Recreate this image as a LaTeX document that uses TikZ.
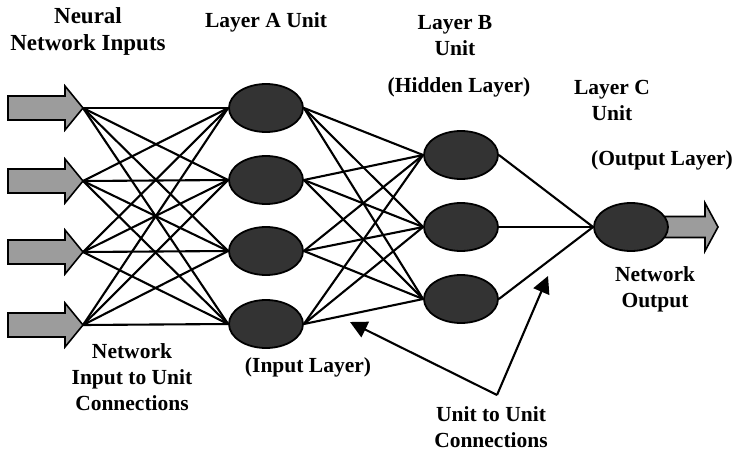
\documentclass[tikz,border=0pt]{standalone}
\usepackage{fontspec}
\setmainfont{Liberation Serif}
\usetikzlibrary{arrows.meta,shapes.geometric}
\definecolor{unitfill}{HTML}{333333}
\definecolor{arrowfill}{HTML}{9C9C9C}
\begin{document}
\begin{tikzpicture}[x=1pt,y=-1pt,
  unit/.style={ellipse,draw=black,line width=1.8pt,fill=unitfill,minimum width=74pt,minimum height=48pt,inner sep=0pt},
  conn/.style={line width=2.1pt,black},
  bigarrow/.style={draw=black,line width=1.6pt,fill=arrowfill,line join=miter},
  lbl/.style={font=\bfseries\fontsize{21.5}{26}\selectfont,align=center,inner sep=0pt},
  pointer/.style={line width=2.1pt,-{Triangle[length=17pt,width=17pt]}}]
\useasboundingbox (0,0) rectangle (733,453);
% input arrows
\foreach \i/\y in {1/108,2/181,3/252,4/325}{
  \draw[bigarrow] (8,\y-12) -- (65,\y-12) -- (65,\y-22) -- (83,\y) -- (65,\y+22) -- (65,\y+12) -- (8,\y+12) -- cycle;
  \coordinate (in\i) at (83,\y);
}
% output arrow
\draw[bigarrow] (650,216.5) -- (705,216.5) -- (705,203) -- (718,227) -- (705,251) -- (705,237.5) -- (650,237.5) -- cycle;
% units
\foreach \i/\y in {1/108,2/180,3/251,4/324}{
  \node[unit] (A\i) at (266,\y) {};
}
\foreach \i/\y in {1/155,2/227,3/299}{
  \node[unit] (B\i) at (461,\y) {};
}
\node[unit] (C1) at (631,227) {};
% connections
\foreach \i in {1,...,4}{
  \foreach \j in {1,...,4}{
    \draw[conn] (in\i) -- (A\j.west);
  }
}
\foreach \i in {1,...,4}{
  \foreach \j in {1,2,3}{
    \draw[conn] (A\i.east) -- (B\j.west);
  }
}
\foreach \j in {1,2,3}{
  \draw[conn] (B\j.east) -- (C1.west);
}
% pointer arrows
\coordinate (pv) at (497,395);
\coordinate (pl) at (350,322);
\coordinate (pr) at (548,276);
\draw[pointer] (pv) -- (pl);
\draw[pointer] (pv) -- (pr);
% labels
\node[lbl,font=\bfseries\fontsize{23}{27}\selectfont] (tIn) at (88,31) {Neural\\Network Inputs};
\node[lbl] (tA) at (266,22) {Layer A Unit};
\node[lbl] (tB) at (455,36) {Layer B\\Unit};
\node[lbl] (tHid) at (459,87) {(Hidden Layer)};
\node[lbl] (tC) at (612,100) {Layer C\\Unit};
\node[lbl] (tOutL) at (662,160) {(Output Layer)};
\node[lbl] (tOut) at (655,289) {Network\\Output};
\node[lbl] (tNIU) at (132,377) {Network\\Input to Unit\\Connections};
\node[lbl] (tInL) at (308,367) {(Input Layer)};
\node[lbl] (tUU) at (491,427) {Unit to Unit\\Connections};
\end{tikzpicture}
\end{document}
